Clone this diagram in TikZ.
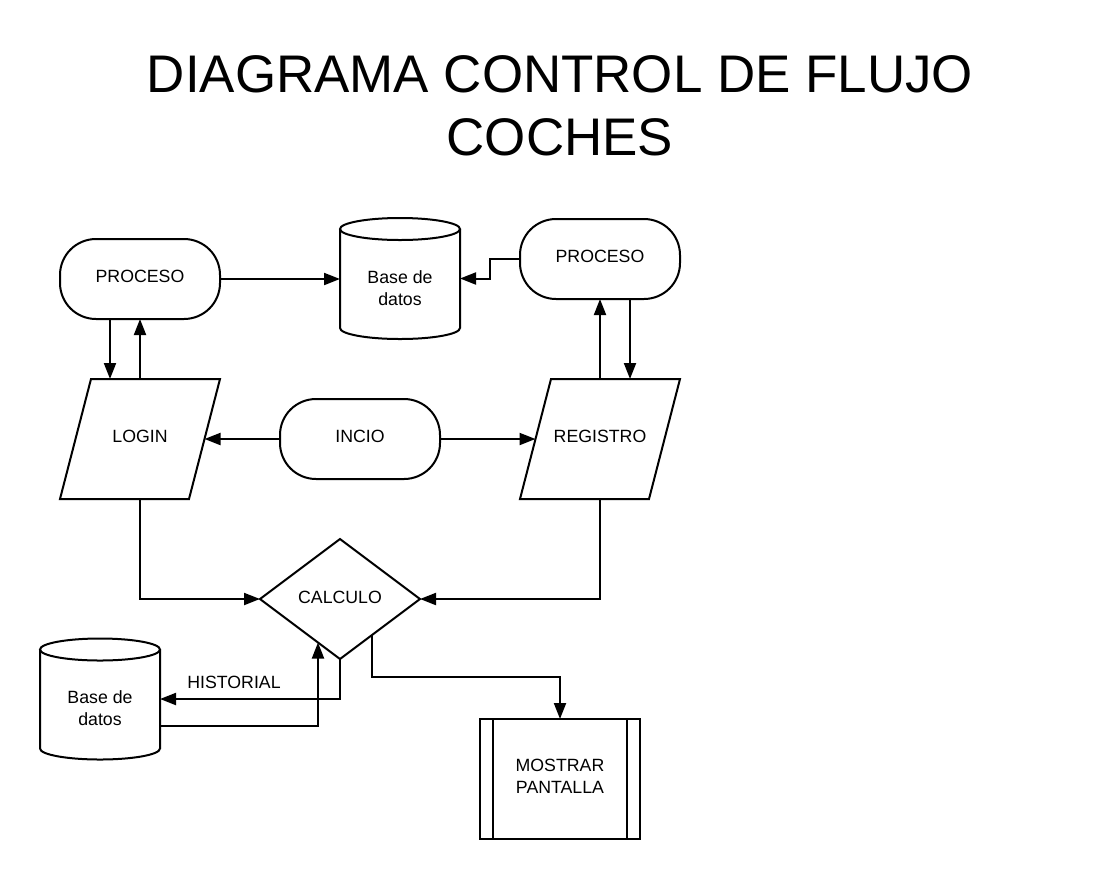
\documentclass[tikz,border=0pt]{standalone}
\usepackage{fontspec}
\setmainfont{Liberation Sans}
\usetikzlibrary{shapes.geometric,arrows.meta,calc}
\newcommand\cylshape[1]{%
  \draw ($(#1.north west)+(0,11)$) -- ($(#1.south west)+(0,-11)$)
        arc[start angle=180,end angle=360,x radius=45pt,y radius=8.25pt]
        -- ($(#1.north east)+(0,11)$);
  \draw ($(#1.north)+(0,11)$) ellipse[x radius=45pt,y radius=8.25pt];}
\newcommand\parashape[1]{%
  \draw[line join=miter] ($(#1.north west)+(31,0)$) -- (#1.north east)
        -- ($(#1.south east)+(-31,0)$) -- (#1.south west) -- cycle;}
\begin{document}
\begin{tikzpicture}[x=0.75pt,y=-0.75pt,
  line width=1.5pt,
  every node/.style={font=\fontsize{13.3}{16.5}\selectfont},
  term/.style={draw, rounded corners=27pt, minimum width=120pt, minimum height=60pt, inner sep=0pt, outer sep=0pt, text depth=3.5pt},
  io/.style={minimum width=120pt, minimum height=90pt, inner sep=0pt, outer sep=0pt, text depth=3.5pt},
  dec/.style={draw, diamond, aspect=1.3333, minimum width=120pt, minimum height=90pt, inner sep=0pt, outer sep=0pt, text depth=3pt},
  dbbox/.style={minimum width=90pt, minimum height=90.75pt, inner sep=0pt, outer sep=0pt},
  txt/.style={inner sep=0pt, align=center},
  subbox/.style={draw, minimum width=120pt, minimum height=90pt, inner sep=0pt, outer sep=0pt},
  arr/.style={-{Triangle[length=12pt,width=9pt]}},
  titlefont/.style={font=\fontsize{39.7}{47}\selectfont, inner sep=0pt, anchor=base}
]
\useasboundingbox (0,0) rectangle (1120,879);
\fill[white] (0,0) rectangle (1120,879);

% title
\node[titlefont] (title1) at (560,92) {DIAGRAMA CONTROL DE FLUJO};
\node[titlefont] (title2) at (560,155) {COCHES};

% nodes
\node[term] (proc1) at (140,279) {PROCESO};
\node[term] (proc2) at (600,259) {PROCESO};
\node[dbbox] (db1) at (400,278.5) {};
\cylshape{db1}
\node[txt] (db1t) at (400,288) {Base de\\datos};
\node[io] (login) at (140,439) {LOGIN};
\parashape{login}
\node[term] (inicio) at (360,439) {INCIO};
\node[io] (reg) at (600,439) {REGISTRO};
\parashape{reg}
\node[dec] (calc) at (340,599) {CALCULO};
\node[dbbox] (db2) at (100,699) {};
\cylshape{db2}
\node[txt] (db2t) at (100,708) {Base de\\datos};
\node[subbox] (most) at (560,779) {};
\node[txt] (mostt) at (560,776) {MOSTRAR\\PANTALLA};
\draw ($(most.north west)+(13,0)$) -- ($(most.south west)+(13,0)$);
\draw ($(most.north east)+(-13,0)$) -- ($(most.south east)+(-13,0)$);

% connectors
\coordinate (p1d) at ($(proc1.south)+(-30,0)$);
\coordinate (p2d) at ($(proc2.south)+(30,0)$);
\coordinate (loginr) at ($(login.east)+(-15.5,0)$);
\coordinate (regl) at ($(reg.west)+(15.5,0)$);
\draw[arr] (proc1.east) -- (proc1.east -| db1.west);
\draw[arr] (proc2.west) -- ++(-30,0) |- (db1.east);
\draw[arr] (p1d) -- (p1d |- login.north);
\draw[arr] (login.north) -- (proc1.south);
\draw[arr] (reg.north) -- (proc2.south);
\draw[arr] (p2d) -- (p2d |- reg.north);
\draw[arr] (inicio.west) -- (loginr);
\draw[arr] (inicio.east) -- (regl);
\draw[arr] (login.south) |- (calc.west);
\draw[arr] (reg.south) |- (calc.east);
\draw[arr] (calc.south) |- (db2.east);
\node[txt] (hist) at (234,682) {HISTORIAL};
\coordinate (cin) at ($(calc.south)!0.275!(calc.west)$);
\draw[arr] ($(db2.east)+(0,27)$) -| (cin);
\coordinate (cout) at ($(calc.south)!0.4!(calc.east)$);
\draw[arr] (cout) -- ++(0,42) -| (most.north);
\end{tikzpicture}
\end{document}
